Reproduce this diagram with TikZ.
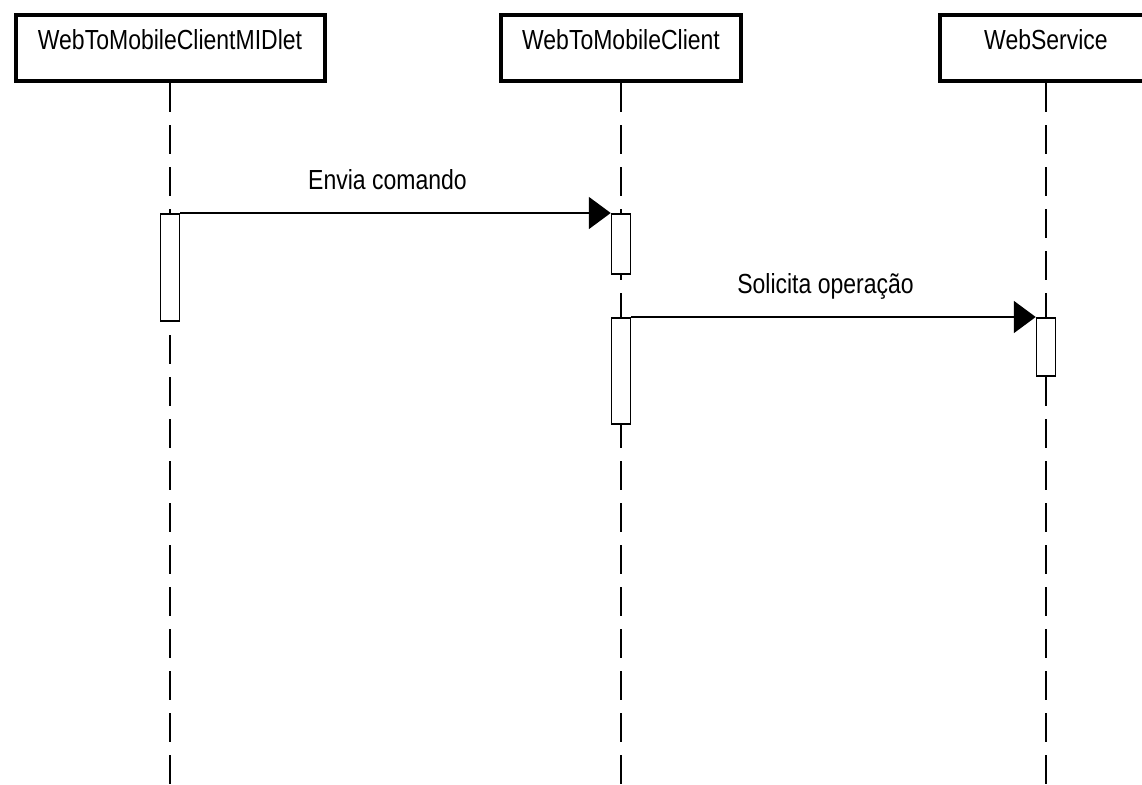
\documentclass[tikz,border=0pt]{standalone}
\usepackage{graphicx}
\usepackage{fontspec}
\setmainfont{Liberation Sans}
\usetikzlibrary{arrows.meta}
% labels are set slightly stretched upward
\newcommand{\tallText}[1]{\scalebox{1}[1.2]{#1}}
\begin{document}
\begin{tikzpicture}[x=1pt,y=-1pt,
  header/.style={draw, line width=4pt, fill=white, minimum width=#1,
    minimum height=66pt, inner sep=0pt,
    font=\fontsize{23}{27}\selectfont, text height=20pt, text depth=16pt},
  lifeline/.style={line width=1.5pt, dash pattern=on 29pt off 13pt},
  activation/.style={draw, line width=1.5pt, fill=white, inner sep=0pt,
    minimum width=19pt, minimum height=#1, anchor=north},
  message/.style={line width=2pt, -{Triangle[length=22pt,width=32pt]}},
  msglabel/.style={font=\fontsize{23}{27}\selectfont, anchor=base,
    yshift=24pt, xshift=-8pt, inner sep=0pt}
]
\clip (0,0) rectangle (1142,784);

% participants
\node[header=309pt] (midlet) at (170,48) {\tallText{WebToMobileClientMIDlet}};
\node[header=240pt] (client) at (621,48) {\tallText{WebToMobileClient}};
\node[header=212pt] (service) at (1046,48) {\tallText{WebService}};

% lifelines
\coordinate (midletEnd) at (170,800);
\coordinate (clientEnd) at (621,800);
\coordinate (serviceEnd) at (1046,800);
\draw[lifeline] (midlet.south) -- (midletEnd);
\draw[lifeline] (client.south) -- (clientEnd);
\draw[lifeline] (service.south) -- (serviceEnd);

% activation bars
\node[activation=107pt] (a1) at (170,213) {};
\node[activation=60pt] (a2) at (621,213) {};
\node[activation=106pt] (a3) at (621,317) {};
\node[activation=58pt] (a4) at (1046,317) {};

% messages
\draw[message] (a1.north east) -- (a2.north west)
  node[msglabel, pos=0.5, name=m1] {\tallText{Envia comando}};
\draw[message] (a3.north east) -- (a4.north west)
  node[msglabel, pos=0.5, name=m2] {\tallText{Solicita operação}};
\end{tikzpicture}
\end{document}
